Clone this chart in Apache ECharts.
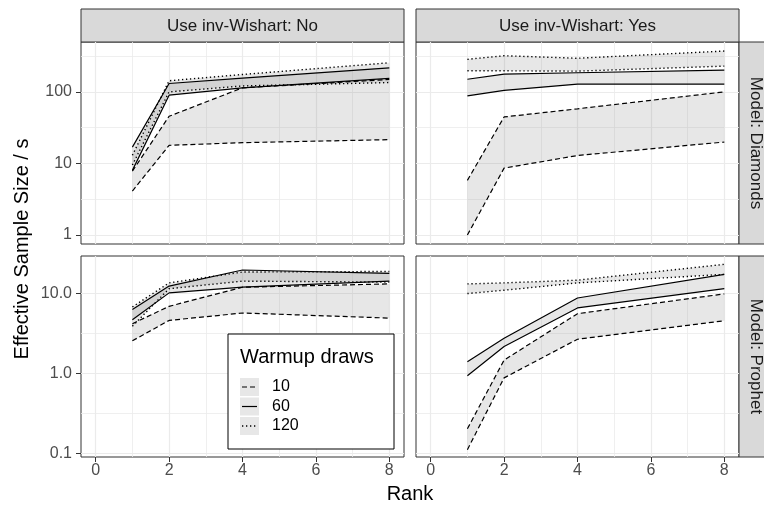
<!DOCTYPE html>
<html>
<head>
<meta charset="utf-8">
<script src="https://cdn.jsdelivr.net/npm/echarts@6/dist/echarts.min.js"></script>
<style>
html, body { margin: 0; padding: 0; background: #fff; }
#main { width: 764px; height: 506px; }
</style>
</head>
<body>
<div id="main"></div>
<script>
// x positions (rank) shared by every panel
var ranks = [1, 2, 4, 8];
var warmups = ['10', '60', '120'];

// Model: Diamonds, inv-Wishart: No  (lower / upper edge of each ribbon)
var diaNo10Lo = [4.1, 17.9, 19.5, 21.5];
var diaNo10Hi = [7.8, 45.6, 114, 149];
var diaNo60Lo = [8.0, 90, 114, 154];
var diaNo60Hi = [16.9, 131, 156, 217];
var diaNo120Lo = [9.5, 100, 121, 135];
var diaNo120Hi = [13, 143, 175, 255];

// Model: Diamonds, inv-Wishart: Yes
var diaYes10Lo = [1.0, 8.6, 12.9, 19.9];
var diaYes10Hi = [5.8, 44.6, 58, 100];
var diaYes60Lo = [88, 105, 128, 128];
var diaYes60Hi = [150, 177, 185, 201];
var diaYes120Lo = [197, 197, 195, 229];
var diaYes120Hi = [285, 320, 295, 372];

// Model: Prophet, inv-Wishart: No
var proNo10Lo = [2.56, 4.61, 5.71, 4.93];
var proNo10Hi = [4.19, 6.92, 12.0, 13.2];
var proNo60Lo = [4.7, 10.2, 12.0, 14.3];
var proNo60Hi = [6.3, 12.4, 19.7, 17.9];
var proNo120Lo = [3.9, 11.5, 14.3, 13.9];
var proNo120Hi = [6.8, 13.6, 18.6, 18.9];

// Model: Prophet, inv-Wishart: Yes
var proYes10Lo = [0.111, 0.88, 2.68, 4.57];
var proYes10Hi = [0.203, 1.47, 5.6, 9.9];
var proYes60Lo = [0.935, 2.17, 6.6, 11.5];
var proYes60Hi = [1.40, 2.76, 8.8, 17.4];
var proYes120Lo = [10.0, 11.0, 13.6, 17.4];
var proYes120Hi = [13.2, 13.6, 14.7, 23.2];

// tick labels
var xTicks = [0, 2, 4, 6, 8];
var xMinor = [1, 3, 5, 7];
var yTicksTop = [1, 10, 100];
var yTicksBottom = [0.1, 1.0, 10.0];
var yLabelsTop = ['1', '10', '100'];
var yLabelsBottom = ['0.1', '1.0', '10.0'];
var colStrips = ['Use inv-Wishart: No', 'Use inv-Wishart: Yes'];
var rowStrips = ['Model: Diamonds', 'Model: Prophet'];

var FONT = '"Liberation Sans", Arial, Helvetica, sans-serif';
var bandFill = 'rgba(128,128,128,0.19)';
var dashes = [[5, 3], 'solid', [1.3, 2.7]];
var widths = [1.2, 1.2, 1.4];

var panels = [
  { lo: [diaNo10Lo, diaNo60Lo, diaNo120Lo], hi: [diaNo10Hi, diaNo60Hi, diaNo120Hi], row: 0, col: 0 },
  { lo: [diaYes10Lo, diaYes60Lo, diaYes120Lo], hi: [diaYes10Hi, diaYes60Hi, diaYes120Hi], row: 0, col: 1 },
  { lo: [proNo10Lo, proNo60Lo, proNo120Lo], hi: [proNo10Hi, proNo60Hi, proNo120Hi], row: 1, col: 0 },
  { lo: [proYes10Lo, proYes60Lo, proYes120Lo], hi: [proYes10Hi, proYes60Hi, proYes120Hi], row: 1, col: 1 }
];

var colLeft = [81, 416], colWidth = 323;
var rowTop = [42, 256], rowHeight = [202, 201];
var yRange = [[-0.126, 2.697], [-1.046, 1.47]];

function lg(v) { return Math.log10(v); }

var grids = [], xAxes = [], yAxes = [], series = [];

panels.forEach(function (p, k) {
  grids.push({
    left: colLeft[p.col], top: rowTop[p.row], width: colWidth, height: rowHeight[p.row],
    show: true, borderColor: '#333', borderWidth: 1, backgroundColor: 'transparent'
  });
  var bottom = p.row === 1, left = p.col === 0;
  var yt = (p.row === 0 ? yTicksTop : yTicksBottom).map(lg);
  var yl = p.row === 0 ? yLabelsTop : yLabelsBottom;
  var ym = p.row === 0 ? [0.5, 1.5, 2.5] : [-0.5, 0.5];

  xAxes.push({
    type: 'value', gridIndex: k, min: -0.4, max: 8.4, position: 'bottom',
    axisLine: { show: false, onZero: false },
    axisTick: { show: bottom, customValues: xTicks, length: 5, lineStyle: { color: '#333', width: 1 } },
    axisLabel: { show: bottom, customValues: xTicks, color: '#4d4d4d', fontSize: 16, fontFamily: FONT, margin: 6 },
    splitLine: { show: true, lineStyle: { color: '#ebebeb', width: 1.2 } }
  }, {
    type: 'value', gridIndex: k, min: -0.4, max: 8.4, position: 'top',
    axisLine: { show: false, onZero: false },
    axisTick: { show: false, customValues: xMinor },
    axisLabel: { show: false },
    splitLine: { show: true, lineStyle: { color: '#ebebeb', width: 0.8 } }
  });
  yAxes.push({
    type: 'value', gridIndex: k, min: yRange[p.row][0], max: yRange[p.row][1], position: 'left',
    axisLine: { show: false, onZero: false },
    axisTick: { show: left, customValues: yt, length: 5, lineStyle: { color: '#333', width: 1 } },
    axisLabel: {
      show: left, customValues: yt, color: '#4d4d4d', fontSize: 16, fontFamily: FONT, margin: 9,
      formatter: function (v) {
        for (var i = 0; i < yt.length; i++) if (Math.abs(yt[i] - v) < 1e-6) return yl[i];
        return '';
      }
    },
    splitLine: { show: true, lineStyle: { color: '#ebebeb', width: 1.2 } }
  }, {
    type: 'value', gridIndex: k, min: yRange[p.row][0], max: yRange[p.row][1], position: 'right',
    axisLine: { show: false, onZero: false },
    axisTick: { show: false, customValues: ym },
    axisLabel: { show: false },
    splitLine: { show: true, lineStyle: { color: '#ebebeb', width: 0.8 } }
  });

  // ribbons
  p.lo.forEach(function (lo, g) {
    var hi = p.hi[g];
    series.push({
      type: 'custom', xAxisIndex: 2 * k, yAxisIndex: 2 * k, z: 2, silent: true,
      data: ranks.map(function (r, i) { return [r, lg(lo[i]), lg(hi[i])]; }),
      renderItem: function (params, api) {
        if (params.dataIndex !== 0) return null;
        var pts = [];
        for (var i = 0; i < ranks.length; i++) pts.push(api.coord([ranks[i], lg(lo[i])]));
        for (var j = ranks.length - 1; j >= 0; j--) pts.push(api.coord([ranks[j], lg(hi[j])]));
        return { type: 'polygon', shape: { points: pts }, style: { fill: bandFill } };
      }
    });
  });
  // edge lines
  p.lo.forEach(function (lo, g) {
    [lo, p.hi[g]].forEach(function (arr) {
      series.push({
        type: 'line', xAxisIndex: 2 * k, yAxisIndex: 2 * k, z: 3, silent: true,
        name: warmups[g], symbol: 'none',
        data: ranks.map(function (r, i) { return [r, lg(arr[i])]; }),
        lineStyle: { color: '#000', width: widths[g], type: dashes[g] }
      });
    });
  });
});

// facet strips, titles, legend
var graphics = [];
colStrips.forEach(function (t, c) {
  graphics.push({
    type: 'rect', shape: { x: colLeft[c], y: 9, width: colWidth, height: 33 },
    style: { fill: '#d9d9d9', stroke: '#333', lineWidth: 1 }
  }, {
    type: 'text', x: colLeft[c] + colWidth / 2, y: 26,
    style: { text: t, fill: '#1a1a1a', font: '17px ' + FONT, align: 'center', verticalAlign: 'middle', textAlign: 'center', textVerticalAlign: 'middle' }
  });
});
rowStrips.forEach(function (t, r) {
  graphics.push({
    type: 'rect', shape: { x: 739, y: rowTop[r], width: 33, height: rowHeight[r] },
    style: { fill: '#d9d9d9', stroke: '#333', lineWidth: 1 }
  }, {
    type: 'text', x: 755.5, y: rowTop[r] + rowHeight[r] / 2, rotation: -Math.PI / 2,
    style: { text: t, fill: '#1a1a1a', font: '17px ' + FONT, align: 'center', verticalAlign: 'middle', textAlign: 'center', textVerticalAlign: 'middle' }
  });
});
graphics.push({
  type: 'text', x: 22, y: 249, rotation: Math.PI / 2,
  style: { text: 'Effective Sample Size / s', fill: '#000', font: '20px ' + FONT, align: 'center', verticalAlign: 'middle', textAlign: 'center', textVerticalAlign: 'middle' }
}, {
  type: 'text', x: 410, y: 494,
  style: { text: 'Rank', fill: '#000', font: '20px ' + FONT, align: 'center', verticalAlign: 'middle', textAlign: 'center', textVerticalAlign: 'middle' }
});

// legend box
graphics.push({
  type: 'rect', z: 10, shape: { x: 228, y: 334, width: 166, height: 115 },
  style: { fill: '#fff', stroke: '#000', lineWidth: 1 }
}, {
  type: 'text', z: 11, x: 240, y: 357,
  style: { text: 'Warmup draws', fill: '#000', font: '20px ' + FONT, align: 'left', verticalAlign: 'middle', textAlign: 'left', textVerticalAlign: 'middle' }
});
var keyY = [387, 406.5, 426];
warmups.forEach(function (w, g) {
  graphics.push({
    type: 'rect', z: 11, shape: { x: 240, y: keyY[g] - 9, width: 19, height: 18 },
    style: { fill: bandFill }
  }, {
    type: 'line', z: 12, shape: { x1: 242, y1: keyY[g], x2: 257, y2: keyY[g] },
    style: { stroke: '#000', lineWidth: widths[g], lineDash: g === 1 ? null : dashes[g] }
  }, {
    type: 'text', z: 12, x: 272, y: keyY[g],
    style: { text: w, fill: '#000', font: '16px ' + FONT, align: 'left', verticalAlign: 'middle', textAlign: 'left', textVerticalAlign: 'middle' }
  });
});

var chart = echarts.init(document.getElementById('main'), null, { renderer: 'canvas' });
chart.setOption({
  animation: false,
  backgroundColor: '#fff',
  grid: grids,
  xAxis: xAxes,
  yAxis: yAxes,
  series: series,
  graphic: graphics
});
</script>
</body>
</html>
